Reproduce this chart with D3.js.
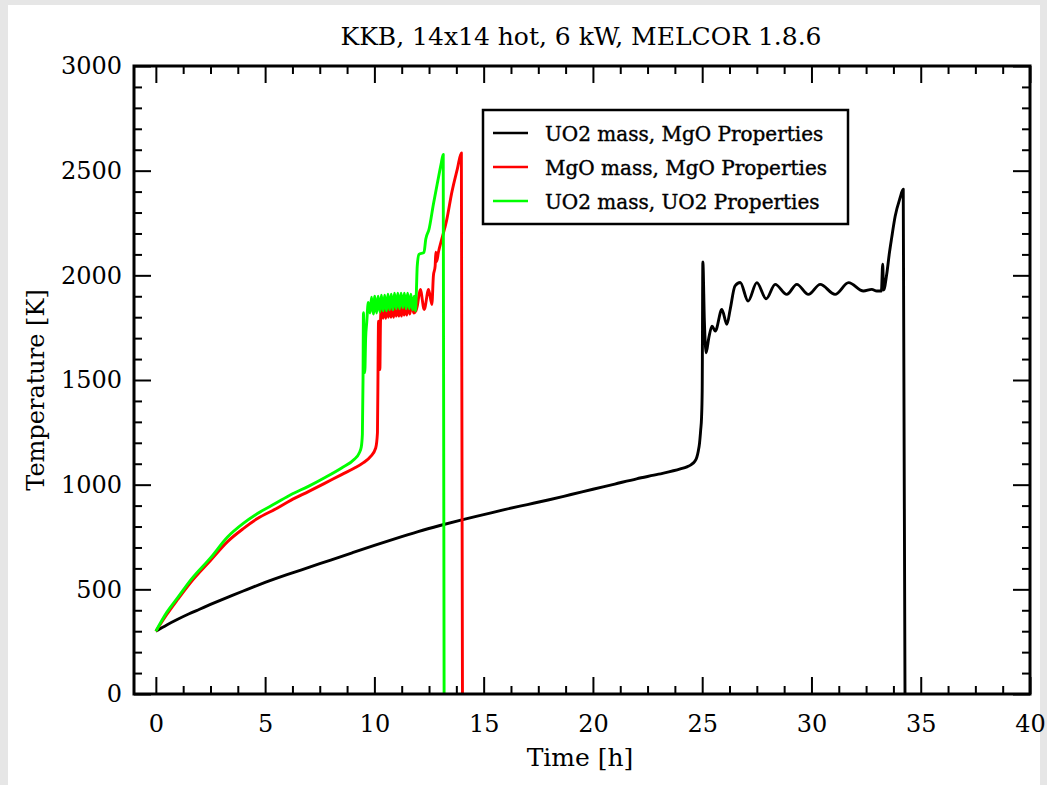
<!DOCTYPE html>
<html>
<head>
<meta charset="utf-8">
<script src="https://cdn.jsdelivr.net/npm/d3@7"></script>
<style>
html,body{margin:0;padding:0;background:#e6e6e6;}
svg{display:block;}
</style>
</head>
<body>
<svg id="chart" width="1047" height="785"></svg>
<script>
// ---------------- data ----------------
const title = "KKB, 14x14 hot, 6 kW, MELCOR 1.8.6";
const xLabel = "Time [h]";
const yLabel = "Temperature [K]";
const seriesNames = ["UO2 mass, MgO Properties", "MgO mass, MgO Properties", "UO2 mass, UO2 Properties"];
const seriesColors = ["#000000", "#ff0000", "#00ff00"];
const xTicks = [0, 5, 10, 15, 20, 25, 30, 35, 40];
const yTicks = [0, 500, 1000, 1500, 2000, 2500, 3000];

// [time h, temperature K]
const uo2MassMgoProps = [
  [0,300],[0.5,330],[1,357],[1.5,382],[2,405],[2.5,428],[3,450],[3.5,471],[4,492],[4.5,513],
  [5,533],[6,570],[7,605],[8,640],[9,675],[10,710],[11,744],[12,776],[13,805],[14,832],
  [15,857],[16,882],[17,905],[18,928],[19,953],[20,978],[21,1003],[22,1028],[23,1050],
  [24,1075],[24.3,1085],[24.5,1096],[24.65,1110],[24.75,1130],[24.82,1160],[24.88,1200],
  [24.93,1260],[24.97,1320],[25.0,1450],[25.03,2064],[25.1,1780],[25.18,1630],[25.3,1700],
  [25.45,1757],[25.6,1734],[25.9,1837],[26.13,1766],[26.28,1837],[26.5,1949],[26.74,1966],
  [27.1,1877],[27.5,1965],[27.93,1888],[28.34,1957],[28.87,1909],[29.33,1957],[29.86,1909],
  [30.4,1957],[31.08,1909],[31.7,1965],[32.38,1925],[32.76,1933],[32.99,1925],[33.2,1925],
  [33.26,2053],[33.3,1930],[33.45,2010],[33.56,2102],[33.67,2179],[33.83,2282],[34.05,2368],
  [34.2,2411],[34.28,0]
];
const mgoMassMgoProps = [
  [0,300],[0.5,380],[1,452],[1.6,534],[2.5,638],[3.28,728],[4,790],[4.65,838],[5.5,885],
  [6.17,925],[7,968],[7.7,1005],[8.5,1048],[9.07,1078],[9.5,1105],[9.83,1135],[10.06,1175],
  [10.14,1248],[10.17,1600],[10.19,1781],[10.22,1560],[10.25,1550],[10.28,1780],[10.33,1860],
  [10.4,1795],[10.46,1865],[10.52,1795],[10.58,1865],[10.64,1800],[10.7,1865],[10.76,1800],
  [10.82,1865],[10.88,1800],[10.94,1870],[11.0,1805],[11.06,1870],[11.12,1805],[11.18,1870],
  [11.24,1805],[11.3,1870],[11.36,1810],[11.42,1870],[11.48,1810],[11.55,1870],[11.62,1815],
  [11.7,1870],[11.8,1820],[11.9,1830],[11.96,1853],[12.1,1933],[12.28,1837],[12.48,1933],
  [12.63,1861],[12.7,1997],[12.78,2044],[12.81,2110],[12.85,2066],[12.93,2110],[13.08,2172],
  [13.3,2260],[13.55,2400],[13.8,2510],[13.98,2585],[14.03,0]
];
const uo2MassUo2Props = [
  [0,300],[0.5,390],[1,460],[1.6,545],[2.5,650],[3.28,750],[4,815],[4.65,862],[5.5,912],
  [6.17,952],[7,993],[7.7,1032],[8.5,1080],[9.07,1120],[9.3,1150],[9.4,1180],[9.45,1240],
  [9.48,1500],[9.5,1822],[9.53,1600],[9.56,1535],[9.6,1700],[9.65,1775],[9.72,1870],
  [9.8,1820],[9.87,1895],[9.95,1815],[10.02,1900],[10.1,1820],[10.17,1900],[10.25,1825],
  [10.32,1905],[10.4,1830],[10.47,1905],[10.55,1830],[10.62,1910],[10.7,1835],[10.77,1910],
  [10.85,1835],[10.92,1915],[11.0,1840],[11.07,1915],[11.15,1840],[11.22,1915],[11.3,1845],
  [11.37,1915],[11.45,1840],[11.52,1915],[11.6,1840],[11.67,1910],[11.75,1835],[11.82,1900],
  [11.88,1830],[11.92,1918],[11.96,2043],[12.04,2100],[12.27,2110],[12.35,2172],[12.5,2220],
  [12.7,2340],[12.9,2450],[13.05,2530],[13.15,2578],[13.19,0]
];
const allSeries = [uo2MassMgoProps, mgoMassMgoProps, uo2MassUo2Props];

// ---------------- layout ----------------
const svg = d3.select("#chart");
const W = 1047, H = 785;
const L = 134, R = 1030, T = 66, B = 694;
const FONT = "DejaVu Serif, serif";

svg.append("rect").attr("x", 0).attr("y", 0).attr("width", W).attr("height", H).attr("fill", "#e6e6e6");
svg.append("rect").attr("x", 8).attr("y", 5).attr("width", 1032).attr("height", H - 5).attr("fill", "#ffffff");

const x = d3.scaleLinear().domain([-1, 40]).range([L, R]);
const y = d3.scaleLinear().domain([0, 3000]).range([B, T]);

const xMinor = d3.range(0, 40.001, 1.25).filter(v => Math.abs(v / 5 - Math.round(v / 5)) > 1e-6);
const yMinor = d3.range(0, 3000.001, 100).filter(v => v % 500 !== 0);

svg.append("clipPath").attr("id", "plotclip").append("rect")
  .attr("x", L).attr("y", T).attr("width", R - L).attr("height", B - T);

// lines
const line = d3.line().x(d => x(d[0])).y(d => y(d[1])).curve(d3.curveMonotoneX);
const gLines = svg.append("g").attr("clip-path", "url(#plotclip)");
allSeries.forEach((s, i) => {
  gLines.append("path").datum(s)
    .attr("d", line)
    .attr("fill", "none")
    .attr("stroke", seriesColors[i])
    .attr("stroke-width", 2.9)
    .attr("stroke-linejoin", "round");
});

// axes (ticks inward on all four sides)
function styleAxis(g) {
  g.select(".domain").remove();
  g.selectAll("line").attr("stroke", "#000").attr("stroke-width", 2);
}
const gB = svg.append("g").attr("transform", `translate(0,${B})`)
  .call(d3.axisBottom(x).tickValues(xTicks).tickSize(-17).tickFormat(d3.format("d")).tickPadding(21));
styleAxis(gB);
gB.selectAll("text").attr("font-family", FONT).attr("font-size", 24).attr("fill", "#000");
svg.append("g").attr("transform", `translate(0,${B})`)
  .call(d3.axisBottom(x).tickValues(xMinor).tickSize(-8).tickFormat("")).call(styleAxis);

svg.append("g").attr("transform", `translate(0,${T})`)
  .call(d3.axisTop(x).tickValues(xTicks).tickSize(-17).tickFormat("")).call(styleAxis);
svg.append("g").attr("transform", `translate(0,${T})`)
  .call(d3.axisTop(x).tickValues(xMinor).tickSize(-8).tickFormat("")).call(styleAxis);

const gL = svg.append("g").attr("transform", `translate(${L},0)`)
  .call(d3.axisLeft(y).tickValues(yTicks).tickSize(-17).tickFormat(d3.format("d")).tickPadding(12));
styleAxis(gL);
gL.selectAll("text").attr("font-family", FONT).attr("font-size", 24).attr("fill", "#000");
svg.append("g").attr("transform", `translate(${L},0)`)
  .call(d3.axisLeft(y).tickValues(yMinor).tickSize(-8).tickFormat("")).call(styleAxis);

svg.append("g").attr("transform", `translate(${R},0)`)
  .call(d3.axisRight(y).tickValues(yTicks).tickSize(-17).tickFormat("")).call(styleAxis);
svg.append("g").attr("transform", `translate(${R},0)`)
  .call(d3.axisRight(y).tickValues(yMinor).tickSize(-8).tickFormat("")).call(styleAxis);

// frame
svg.append("rect").attr("x", L).attr("y", T).attr("width", R - L).attr("height", B - T)
  .attr("fill", "none").attr("stroke", "#000").attr("stroke-width", 3);

// title and axis labels
svg.append("text").attr("x", 581).attr("y", 45).attr("text-anchor", "middle")
  .attr("font-family", FONT).attr("font-size", 25).text(title);
svg.append("text").attr("x", 580).attr("y", 766).attr("text-anchor", "middle")
  .attr("font-family", FONT).attr("font-size", 25).text(xLabel);
svg.append("text").attr("transform", `translate(44,390) rotate(-90)`).attr("text-anchor", "middle")
  .attr("font-family", FONT).attr("font-size", 24).text(yLabel);

// legend
const lg = svg.append("g");
lg.append("rect").attr("x", 483).attr("y", 110).attr("width", 365).attr("height", 114)
  .attr("fill", "#fff").attr("stroke", "#000").attr("stroke-width", 2.5);
seriesNames.forEach((n, i) => {
  const yy = 133 + i * 34;
  lg.append("line").attr("x1", 493).attr("x2", 528).attr("y1", yy).attr("y2", yy)
    .attr("stroke", seriesColors[i]).attr("stroke-width", 2.6);
  lg.append("text").attr("x", 545).attr("y", yy + 8).attr("font-family", FONT)
    .attr("font-size", 20).attr("stroke", "#000").attr("stroke-width", 0.4).text(n);
});
</script>
</body>
</html>
